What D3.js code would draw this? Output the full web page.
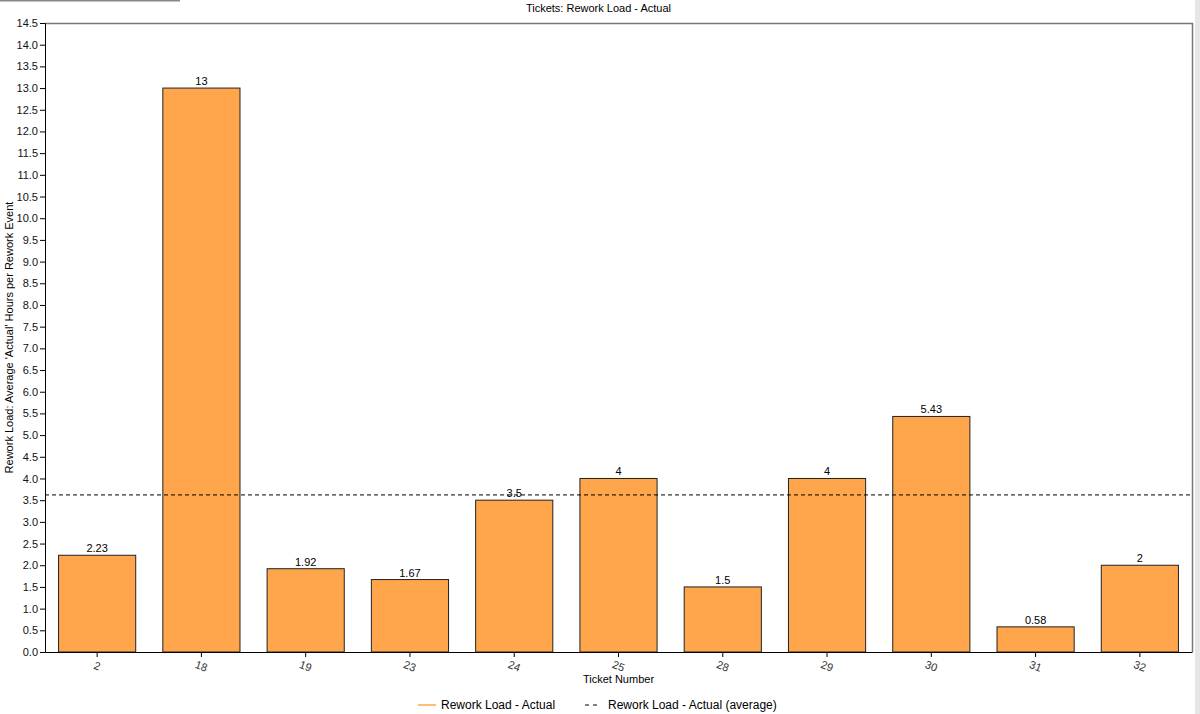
<!DOCTYPE html>
<html>
<head>
<meta charset="utf-8">
<script src="https://cdn.jsdelivr.net/npm/d3@7"></script>
<style>
  body { margin: 0; background: #fff; }
  svg { display: block; font-family: "Liberation Sans", Arial, sans-serif; }
</style>
</head>
<body>
<div id="chart"></div>
<script>
// tickets and their rework load
var tickets = ["2", "18", "19", "23", "24", "25", "28", "29", "30", "31", "32"]
var reworkActual = [2.23, 13, 1.92, 1.67, 3.5, 4, 1.5, 4, 5.43, 0.58, 2]
var valueLabels = ["2.23", "13", "1.92", "1.67", "3.5", "4", "1.5", "4", "5.43", "0.58", "2"]
var yTicks = d3.range(0, 14.51, 0.5)

var W = 1200, H = 714
var m = { left: 45, right: 8, top: 23, bottom: 62 }

var svg = d3.select("#chart").append("svg")
    .attr("width", W)
    .attr("height", H)

// window bits round the chart
svg.append("line")
    .attr("x1", 0).attr("y1", 0.5).attr("x2", 180).attr("y2", 0.5)
    .style("stroke", "#888").style("stroke-width", 2)
svg.append("rect")
    .attr("x", 1195).attr("y", 0).attr("width", 5).attr("height", H)
    .style("fill", "#e6e6e6")

var x = d3.scaleBand()
    .domain(tickets)
    .range([m.left, W - m.right])
    .paddingInner(0.26)
    .paddingOuter(0.13)

var y = d3.scaleLinear()
    .domain([0, 14.5])
    .range([H - m.bottom, m.top])

// frame top + right (gray)
svg.append("path")
    .attr("d", "M" + m.left + "," + (m.top + 0.5) + "H" + (W - m.right + 0.5) + "V" + y(0))
    .style("fill", "none")
    .style("stroke", "#777")
    .style("stroke-width", 1.5)

// title
svg.append("text")
    .attr("x", (m.left + W - m.right) / 2 - 20)
    .attr("y", 12)
    .attr("text-anchor", "middle")
    .style("font-size", "11px")
    .text("Tickets: Rework Load - Actual")

// bars
svg.selectAll("rect.bar")
    .data(reworkActual)
    .enter().append("rect")
    .attr("class", "bar")
    .attr("x", (d, i) => x(tickets[i]))
    .attr("y", d => y(d))
    .attr("width", x.bandwidth())
    .attr("height", d => y(0) - y(d))
    .style("fill", "#ffa64d")
    .style("stroke", "#222")
    .style("stroke-width", 1)

// value labels
svg.selectAll("text.val")
    .data(reworkActual)
    .enter().append("text")
    .attr("class", "val")
    .attr("x", (d, i) => x(tickets[i]) + x.bandwidth() / 2)
    .attr("y", d => y(d) - 3)
    .attr("text-anchor", "middle")
    .style("font-size", "11px")
    .text((d, i) => valueLabels[i])

// average line
var avg = d3.mean(reworkActual)
svg.append("line")
    .attr("x1", m.left).attr("x2", W - m.right)
    .attr("y1", y(avg)).attr("y2", y(avg))
    .style("stroke", "#000")
    .style("stroke-width", 1)
    .style("stroke-dasharray", "4,3")

// y axis
var yAxis = svg.append("g")
    .attr("transform", "translate(" + m.left + ",0)")
    .call(d3.axisLeft(y).tickValues(yTicks).tickFormat(d3.format(".1f")).tickSize(5).tickPadding(2))
yAxis.selectAll("text").style("font-size", "11px").style("fill", "#111")
yAxis.select(".domain").style("stroke", "#000")

// x axis
var xAxis = svg.append("g")
    .attr("transform", "translate(0," + y(0) + ")")
    .call(d3.axisBottom(x).tickSize(5).tickSizeOuter(0))
xAxis.select(".domain").style("stroke", "#000")
xAxis.selectAll("text")
    .style("font-size", "11px")
    .style("fill", "#333")
    .attr("text-anchor", "middle")
    .attr("dy", "0.9em")
    .attr("transform", "rotate(20, 0, 14)")

// axis titles
svg.append("text")
    .attr("x", (m.left + W - m.right) / 2)
    .attr("y", 683)
    .attr("text-anchor", "middle")
    .style("font-size", "11px")
    .text("Ticket Number")

svg.append("text")
    .attr("transform", "translate(13," + ((m.top + y(0)) / 2) + ") rotate(-90)")
    .attr("text-anchor", "middle")
    .style("font-size", "11px")
    .text("Rework Load: Average 'Actual' Hours per Rework Event")

// legend
var lg = svg.append("g").attr("transform", "translate(0,705)")
lg.append("line")
    .attr("x1", 418).attr("x2", 436).attr("y1", 0).attr("y2", 0)
    .style("stroke", "#ffa64d").style("stroke-width", 1.5)
lg.append("text")
    .attr("x", 441).attr("y", 4)
    .style("font-size", "12px")
    .text("Rework Load - Actual")
lg.append("line")
    .attr("x1", 585).attr("x2", 600).attr("y1", 0).attr("y2", 0)
    .style("stroke", "#000").style("stroke-width", 1)
    .style("stroke-dasharray", "4,4")
lg.append("text")
    .attr("x", 608).attr("y", 4)
    .style("font-size", "12px")
    .text("Rework Load - Actual (average)")
</script>
</body>
</html>
